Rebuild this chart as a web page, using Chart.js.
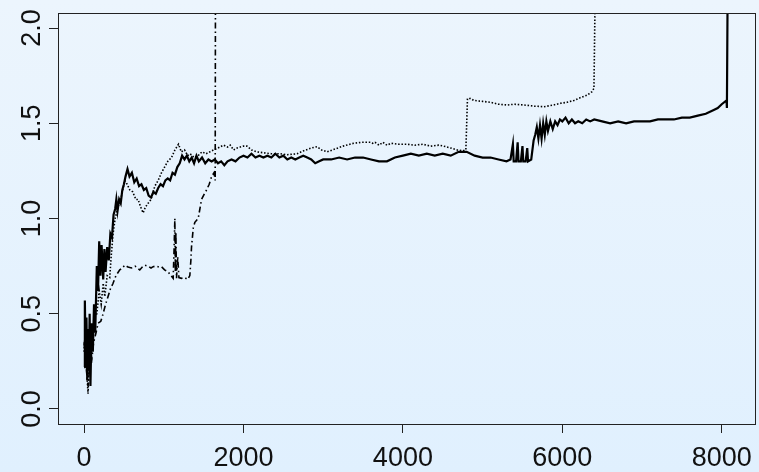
<!DOCTYPE html>
<html>
<head>
<meta charset="utf-8">
<script src="https://cdn.jsdelivr.net/npm/chart.js@4.4.1/dist/chart.umd.min.js"></script>
<style>
  html, body { margin: 0; padding: 0; }
  body { width: 759px; height: 472px; background: linear-gradient(#ecf5fd, #e0f0fe); }
  canvas { display: block; }
</style>
</head>
<body>
<canvas id="myChart" width="759" height="472"></canvas>
<script>
// tick values for both axes
const xTickValues = [0, 2000, 4000, 6000, 8000];
const yTickValues = [0, 0.5, 1.0, 1.5, 2.0];

// solid series
const solidX = [0, 10, 20, 30, 40, 50, 60, 70, 80, 95, 110, 125, 140, 160, 175, 190, 205, 220, 240, 255,
  270, 290, 310, 330, 350, 370, 390, 405, 420, 440, 460, 480, 500, 520, 545, 570, 600, 630, 660, 690,
  720, 750, 780, 810, 840, 870, 900, 930, 960, 990, 1020, 1050, 1080, 1110, 1140, 1170, 1200, 1230, 1260, 1290,
  1320, 1350, 1380, 1410, 1440, 1480, 1520, 1560, 1600, 1640, 1680, 1720, 1760, 1800, 1850, 1900, 1950, 2000, 2050, 2100,
  2150, 2200, 2250, 2300, 2350, 2400, 2450, 2500, 2550, 2600, 2650, 2700, 2750, 2800, 2850, 2900, 2950, 3000, 3100, 3200,
  3300, 3400, 3500, 3600, 3700, 3800, 3900, 4000, 4100, 4200, 4300, 4400, 4500, 4600, 4700, 4800, 4900, 5000, 5100, 5200,
  5300, 5350, 5380, 5390, 5420, 5440, 5450, 5480, 5500, 5510, 5540, 5560, 5570, 5610, 5640, 5660, 5680, 5700, 5720, 5740,
  5760, 5780, 5800, 5820, 5850, 5880, 5910, 5940, 5970, 6000, 6040, 6080, 6120, 6160, 6200, 6250, 6300, 6350, 6400, 6500,
  6600, 6700, 6800, 6900, 7000, 7100, 7200, 7300, 7400, 7500, 7600, 7700, 7800, 7900, 7950, 8000, 8060, 8065, 8080];
const solidY = [0.22, 0.57, 0.25, 0.48, 0.15, 0.42, 0.20, 0.50, 0.12, 0.45, 0.30, 0.55, 0.40, 0.75, 0.62, 0.88, 0.70, 0.86, 0.68, 0.84,
  0.72, 0.85, 0.78, 0.92, 0.90, 1.02, 1.05, 1.10, 1.04, 1.10, 1.08, 1.15, 1.18, 1.22, 1.26, 1.22, 1.24, 1.19, 1.21, 1.17,
  1.18, 1.15, 1.16, 1.12, 1.11, 1.14, 1.13, 1.16, 1.18, 1.17, 1.20, 1.21, 1.20, 1.24, 1.23, 1.27, 1.29, 1.33, 1.31, 1.33,
  1.30, 1.32, 1.29, 1.33, 1.30, 1.32, 1.29, 1.31, 1.30, 1.31, 1.29, 1.30, 1.28, 1.30, 1.31, 1.30, 1.32, 1.33, 1.32, 1.34,
  1.32, 1.33, 1.32, 1.33, 1.32, 1.34, 1.32, 1.33, 1.31, 1.32, 1.31, 1.32, 1.33, 1.32, 1.31, 1.29, 1.30, 1.31, 1.31, 1.32,
  1.31, 1.32, 1.32, 1.31, 1.30, 1.30, 1.32, 1.33, 1.34, 1.33, 1.34, 1.33, 1.34, 1.33, 1.35, 1.35, 1.33, 1.32, 1.32, 1.31,
  1.30, 1.31, 1.39, 1.30, 1.30, 1.40, 1.30, 1.30, 1.38, 1.30, 1.30, 1.37, 1.30, 1.31, 1.41, 1.44, 1.48, 1.42, 1.49, 1.42,
  1.50, 1.44, 1.51, 1.46, 1.51, 1.47, 1.51, 1.49, 1.52, 1.51, 1.53, 1.50, 1.52, 1.50, 1.51, 1.50, 1.52, 1.51, 1.52, 1.51,
  1.50, 1.51, 1.50, 1.51, 1.51, 1.51, 1.52, 1.52, 1.52, 1.53, 1.53, 1.54, 1.55, 1.57, 1.58, 1.60, 1.62, 1.58, 2.60];

// dotted series
const dottedX = [0, 20, 40, 50, 70, 90, 110, 134, 160, 190, 215, 240, 260, 290, 322, 340, 364, 390, 427, 470,
  511, 540, 574, 610, 650, 678, 710, 741, 770, 804, 840, 888, 930, 971, 1010, 1050, 1097, 1140, 1185, 1220,
  1260, 1300, 1331, 1380, 1430, 1480, 1530, 1580, 1625, 1680, 1750, 1800, 1834, 1876, 1920, 1960, 2000, 2044, 2100, 2170,
  2250, 2350, 2462, 2550, 2672, 2750, 2850, 2922, 2980, 3047, 3150, 3250, 3382, 3480, 3592, 3620, 3650, 3700, 3750, 3800,
  3850, 3950, 4050, 4150, 4250, 4350, 4450, 4513, 4600, 4680, 4750, 4790, 4810, 4850, 4890, 5000, 5100, 5200, 5309, 5400,
  5518, 5650, 5769, 5880, 5979, 6060, 6146, 6230, 6314, 6370, 6397, 6425];
const dottedY = [0.30, 0.45, 0.15, 0.08, 0.30, 0.25, 0.40, 0.48, 0.50, 0.62, 0.55, 0.66, 0.59, 0.70, 0.69, 0.80, 0.92, 1.00, 1.06, 1.12,
  1.20, 1.18, 1.15, 1.14, 1.10, 1.10, 1.06, 1.03, 1.06, 1.08, 1.10, 1.17, 1.20, 1.24, 1.27, 1.30, 1.32, 1.36, 1.39, 1.35,
  1.36, 1.33, 1.34, 1.32, 1.33, 1.35, 1.34, 1.35, 1.36, 1.37, 1.385, 1.375, 1.385, 1.36, 1.37, 1.375, 1.38, 1.38, 1.36, 1.35,
  1.345, 1.34, 1.34, 1.335, 1.34, 1.355, 1.37, 1.377, 1.36, 1.35, 1.365, 1.38, 1.395, 1.40, 1.40, 1.395, 1.40, 1.385, 1.40, 1.385,
  1.395, 1.39, 1.39, 1.385, 1.39, 1.38, 1.385, 1.38, 1.37, 1.36, 1.355, 1.36, 1.63, 1.63, 1.62, 1.615, 1.61, 1.60, 1.596, 1.60,
  1.596, 1.59, 1.587, 1.595, 1.605, 1.61, 1.62, 1.635, 1.648, 1.665, 1.683, 2.60];

// dash-dot series
const dashDotX = [0, 30, 50, 70, 92, 120, 150, 176, 210, 239, 270, 301, 330, 364, 400, 448, 480, 511, 550, 595,
  640, 699, 730, 762, 800, 840, 867, 900, 940, 971, 1010, 1055, 1090, 1118, 1130, 1139, 1145, 1152, 1160, 1175,
  1190, 1222, 1260, 1300, 1327, 1340, 1348, 1370, 1390, 1432, 1474, 1510, 1537, 1570, 1600, 1630, 1645, 1650];
const dashDotY = [0.35, 0.20, 0.12, 0.22, 0.24, 0.35, 0.40, 0.45, 0.46, 0.50, 0.55, 0.59, 0.63, 0.66, 0.70, 0.73, 0.74, 0.755, 0.745, 0.74,
  0.75, 0.73, 0.745, 0.755, 0.75, 0.74, 0.747, 0.75, 0.745, 0.747, 0.73, 0.72, 0.70, 0.686, 0.85, 1.00, 0.72, 0.93, 0.686, 0.80,
  0.69, 0.686, 0.69, 0.68, 0.70, 0.78, 0.85, 0.95, 0.98, 1.00, 1.10, 1.13, 1.15, 1.18, 1.22, 1.24, 1.20, 2.60];

function toPoints(xs, ys) {
    return xs.map((x, i) => ({ x: x, y: ys[i] }));
}

const labelFont = '27px "Liberation Sans", Arial, sans-serif';

// draws the box round the plot and the tick labels
const frameAndLabels = {
    id: 'frameAndLabels',
    afterDraw(chart) {
        const ctx = chart.ctx;
        const area = chart.chartArea;
        ctx.save();
        ctx.strokeStyle = '#222';
        ctx.lineWidth = 1;
        ctx.strokeRect(area.left + 0.5, area.top + 0.5, area.right - area.left - 1, area.bottom - area.top);

        ctx.fillStyle = '#111';
        ctx.font = labelFont;
        ctx.textAlign = 'center';
        ctx.textBaseline = 'middle';

        const xs = chart.scales.x;
        xTickValues.forEach(v => {
            ctx.fillText(String(v), xs.getPixelForValue(v), 459);
        });

        const ys = chart.scales.y;
        yTickValues.forEach(v => {
            ctx.save();
            ctx.translate(33, ys.getPixelForValue(v));
            ctx.rotate(-Math.PI / 2);
            ctx.fillText(v.toFixed(1), 0, 0);
            ctx.restore();
        });
        ctx.restore();
    }
};

new Chart(document.getElementById('myChart').getContext('2d'), {
    type: 'line',
    data: {
        datasets: [
            {
                label: 'solid',
                data: toPoints(solidX, solidY),
                borderColor: '#000',
                borderWidth: 2.2,
                pointRadius: 0,
                tension: 0
            },
            {
                label: 'dotted',
                data: toPoints(dottedX, dottedY),
                borderColor: '#000',
                borderWidth: 1.6,
                borderDash: [1.5, 1.8],
                pointRadius: 0,
                tension: 0
            },
            {
                label: 'dash-dot',
                data: toPoints(dashDotX, dashDotY),
                borderColor: '#000',
                borderWidth: 1.6,
                borderDash: [6, 3, 1.5, 3],
                pointRadius: 0,
                tension: 0
            }
        ]
    },
    options: {
        responsive: false,
        animation: false,
        layout: { padding: { top: 13, right: 3, left: 0, bottom: 0 } },
        plugins: {
            legend: { display: false },
            tooltip: { enabled: false }
        },
        scales: {
            x: {
                type: 'linear',
                min: -327,
                max: 8430,
                afterBuildTicks: scale => { scale.ticks = xTickValues.map(v => ({ value: v })); },
                afterFit: scale => { scale.height = 48; },
                border: { display: false },
                grid: { drawOnChartArea: false, drawTicks: true, tickLength: 9, color: '#222' },
                ticks: { display: false }
            },
            y: {
                type: 'linear',
                min: -0.079,
                max: 2.079,
                afterBuildTicks: scale => { scale.ticks = yTickValues.map(v => ({ value: v })); },
                afterFit: scale => { scale.width = 58; },
                border: { display: false },
                grid: { drawOnChartArea: false, drawTicks: true, tickLength: 9, color: '#222' },
                ticks: { display: false }
            }
        }
    },
    plugins: [frameAndLabels]
});
</script>
</body>
</html>
